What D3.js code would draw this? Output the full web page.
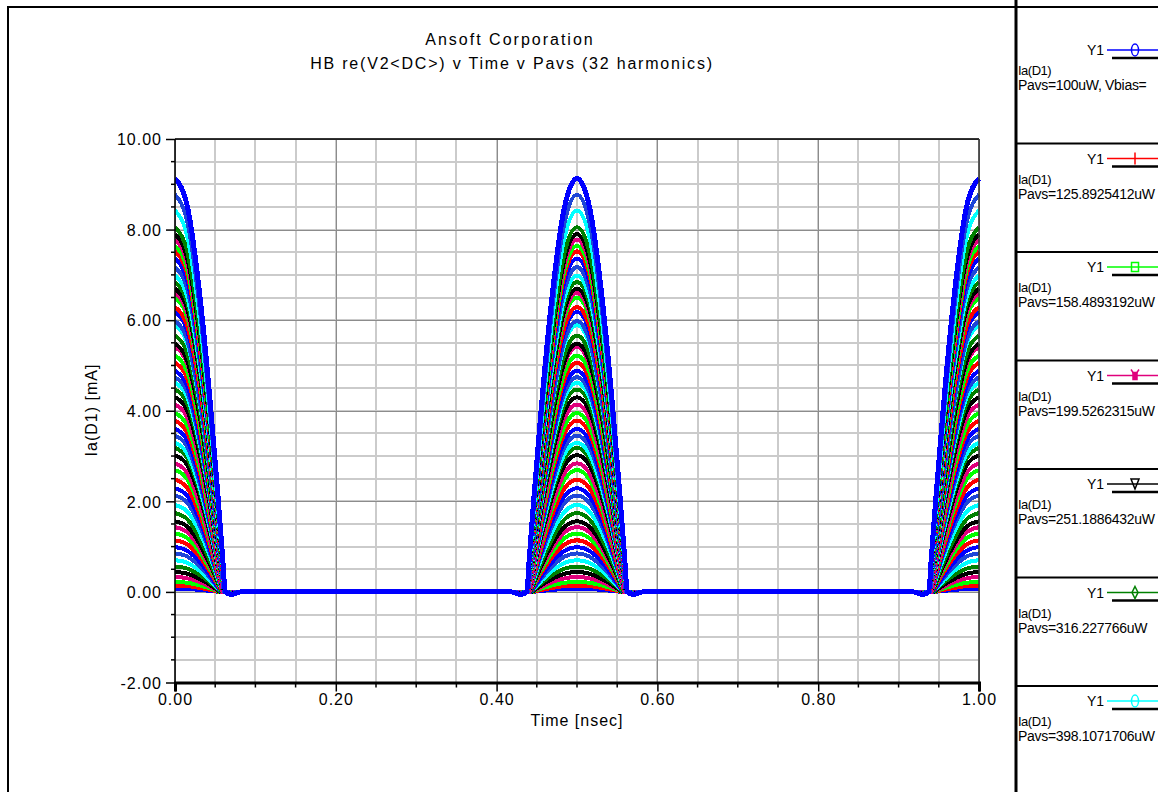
<!DOCTYPE html>
<html><head><meta charset="utf-8">
<script src="https://cdn.jsdelivr.net/npm/d3@7/dist/d3.min.js"></script>
<style>
body{margin:0;background:#fff}
text{font-family:"Liberation Sans",Arial,sans-serif;fill:#000}
</style>
</head><body>
<svg id="chart" width="1158" height="792"></svg>
<script>
// Axis ticks
const timeTicks = [0, 0.2, 0.4, 0.6, 0.8, 1.0];
const currentTicks = [-2, 0, 2, 4, 6, 8, 10];

// Time of each conduction pulse (nsec)
const pulseCenters = [0, 0.5, 1.0];

// Peak diode current of each swept trace (mA), lowest Pavs first
const peakCurrents = [
  0.07, 0.14, 0.22, 0.33, 0.44, 0.56, 0.70, 0.85, 0.99, 1.14,
  1.29, 1.43, 1.56, 1.74, 1.92, 2.13, 2.29, 2.48, 2.69, 2.84,
  3.02, 3.18, 3.29, 3.45, 3.60, 3.78, 3.95, 4.14, 4.30, 4.47,
  4.62, 4.74, 4.88, 5.06, 5.22, 5.41, 5.48, 5.66, 5.89, 5.98,
  6.18, 6.29, 6.50, 6.60, 6.70, 6.84, 6.98, 7.17, 7.36, 7.52,
  7.64, 7.78, 7.90, 8.05, 8.42, 8.77, 9.13
];

// Conduction half-width of each trace (nsec)
const halfWidths = [
  0.055, 0.055, 0.056, 0.056, 0.056, 0.057, 0.057, 0.057, 0.057, 0.058,
  0.058, 0.058, 0.058, 0.058, 0.059, 0.059, 0.059, 0.059, 0.059, 0.059,
  0.060, 0.060, 0.060, 0.060, 0.060, 0.060, 0.060, 0.060, 0.061, 0.061,
  0.061, 0.061, 0.061, 0.061, 0.061, 0.061, 0.061, 0.061, 0.061, 0.061,
  0.062, 0.062, 0.062, 0.062, 0.062, 0.062, 0.062, 0.062, 0.062, 0.062,
  0.062, 0.062, 0.062, 0.062, 0.062, 0.062, 0.0625
];

// Pulse shape: offset from the pulse centre (fraction of half-width) vs. fraction of peak
const profileX = [0, 0.25, 0.5, 0.7, 0.85, 0.95, 1.0, 1.12, 1.3];
const profileY = [1, 0.93, 0.71, 0.46, 0.24, 0.08, 0, -0.006, 0];

// Trace colour cycle
const traceColors = ['#0000ff', '#ff0000', '#00ff00', '#e0007c', '#000000', '#008000', '#00ffff', '#1e46d8'];

// Legend entries
const legendMarkers = ['circle', 'plus', 'square', 'asterisk', 'triangle', 'diamond', 'circle'];
const legendLabels = [
  'Pavs=100uW, Vbias=',
  'Pavs=125.8925412uW',
  'Pavs=158.4893192uW',
  'Pavs=199.5262315uW',
  'Pavs=251.1886432uW',
  'Pavs=316.227766uW',
  'Pavs=398.1071706uW'
];

const svg = d3.select('#chart');
svg.append('rect').attr('width', 1158).attr('height', 792).attr('fill', '#fff');

const x = d3.scaleLinear().domain([0, 1]).range([175, 979]);
const y = d3.scaleLinear().domain([-2, 10]).range([682.5, 139]);
const fmt = d => d3.format('.2f')(d).replace('\u2212', '-');

// Outer frame
svg.append('path').attr('d', 'M8,792V7H1158').attr('fill', 'none').attr('stroke', '#000').attr('stroke-width', 2);
svg.append('line').attr('x1', 1016).attr('x2', 1016).attr('y1', 0).attr('y2', 792)
  .attr('stroke', '#000').attr('stroke-width', 3);

// Titles
svg.append('text').attr('x', 510).attr('y', 45).attr('text-anchor', 'middle')
  .style('font-size', '16px').style('letter-spacing', '2px').text('Ansoft Corporation');
svg.append('text').attr('x', 512).attr('y', 69).attr('text-anchor', 'middle')
  .style('font-size', '16px').style('letter-spacing', '1.8px').text('HB re(V2<DC>) v Time v Pavs (32 harmonics)');

// Grid
const grid = svg.append('g');
const minorT = d3.range(0, 21).map(i => i * 0.05);
const minorI = d3.range(0, 25).map(i => -2 + i * 0.5);
grid.selectAll('.vminor').data(minorT).join('line')
  .attr('x1', d => Math.round(x(d))).attr('x2', d => Math.round(x(d)))
  .attr('y1', y(10)).attr('y2', y(-2))
  .attr('stroke', '#cbcbcb').attr('stroke-width', 2);
grid.selectAll('.hminor').data(minorI).join('line')
  .attr('y1', d => Math.round(y(d))).attr('y2', d => Math.round(y(d)))
  .attr('x1', x(0)).attr('x2', x(1))
  .attr('stroke', '#cbcbcb').attr('stroke-width', 2);
grid.selectAll('.vmajor').data(timeTicks).join('line')
  .attr('x1', d => Math.round(x(d)) + 0.5).attr('x2', d => Math.round(x(d)) + 0.5)
  .attr('y1', y(10)).attr('y2', y(-2))
  .attr('stroke', '#8c8c8c').attr('stroke-width', 1);
grid.selectAll('.hmajor').data(currentTicks).join('line')
  .attr('y1', d => Math.round(y(d)) + 0.5).attr('y2', d => Math.round(y(d)) + 0.5)
  .attr('x1', x(0)).attr('x2', x(1))
  .attr('stroke', '#8c8c8c').attr('stroke-width', 1);

// Traces
svg.append('clipPath').attr('id', 'plotclip').append('rect')
  .attr('x', x(0)).attr('y', y(10) - 4).attr('width', x(1) - x(0) + 3).attr('height', y(-2) - y(10) + 4);

function tracePoints(peak, hw) {
  const pts = [];
  pulseCenters.forEach(c => {
    profileX.forEach((px, k) => {
      [-1, 1].forEach(s => {
        const t = c + s * px * hw;
        if (t >= 0 && t <= 1) pts.push([t, peak * profileY[k]]);
      });
    });
  });
  pts.sort((a, b) => a[0] - b[0]);
  return pts.filter((p, i) => i === 0 || p[0] - pts[i - 1][0] > 1e-9);
}

const line = d3.line().x(d => x(d[0])).y(d => y(d[1])).curve(d3.curveMonotoneX);
const traces = svg.append('g').attr('clip-path', 'url(#plotclip)');
peakCurrents.forEach((pk, i) => {
  traces.append('path')
    .attr('d', line(tracePoints(pk, halfWidths[i])))
    .attr('fill', 'none')
    .attr('stroke', traceColors[i % traceColors.length])
    .attr('stroke-width', i === peakCurrents.length - 1 ? 5 : 4)
    .attr('stroke-linejoin', 'round')
    .attr('shape-rendering', 'crispEdges');
});

// Plot border and axes
svg.append('line').attr('x1', x(0)).attr('x2', x(1)).attr('y1', y(10)).attr('y2', y(10))
  .attr('stroke', '#000').attr('stroke-width', 1.5);
svg.append('line').attr('x1', x(1)).attr('x2', x(1)).attr('y1', y(10)).attr('y2', y(-2))
  .attr('stroke', '#333').attr('stroke-width', 1.5);

const yAxis = d3.axisLeft(y).tickValues(currentTicks).tickSize(9).tickPadding(4).tickFormat(fmt);
const yG = svg.append('g').attr('transform', `translate(${x(0)},0)`).call(yAxis);
yG.selectAll('.tick line').attr('stroke-width', 1.5);
yG.selectAll('text').style('font-size', '16px').style('letter-spacing', '1px')
  .attr('font-family', null).attr('dy', '0.36em');
yG.select('.domain').remove();
svg.append('g').selectAll('line').data(minorI.filter(v => v % 2 !== 0)).join('line')
  .attr('x1', x(0) - 4).attr('x2', x(0)).attr('y1', d => y(d)).attr('y2', d => y(d))
  .attr('stroke', '#000').attr('stroke-width', 1.5);

const xAxis = d3.axisBottom(x).tickValues(timeTicks).tickSize(9).tickPadding(0).tickFormat(fmt);
const xG = svg.append('g').attr('transform', `translate(0,${y(-2)})`).call(xAxis);
xG.select('.domain').attr('stroke-width', 3);
xG.selectAll('.tick line').attr('stroke-width', 1.5);
xG.selectAll('text').style('font-size', '16px').style('letter-spacing', '1px')
  .attr('font-family', null).attr('dy', '0.85em');
svg.append('g').selectAll('line').data(minorT.filter((v, i) => i % 4 !== 0)).join('line')
  .attr('x1', d => x(d)).attr('x2', d => x(d)).attr('y1', y(-2)).attr('y2', y(-2) + 5)
  .attr('stroke', '#000').attr('stroke-width', 1.5);
svg.append('line').attr('x1', x(0)).attr('x2', x(0)).attr('y1', y(10)).attr('y2', y(-2))
  .attr('stroke', '#000').attr('stroke-width', 1.5);

// Axis titles
svg.append('text').attr('x', 577).attr('y', 726).attr('text-anchor', 'middle')
  .style('font-size', '16px').style('letter-spacing', '1px').text('Time [nsec]');
svg.append('text').attr('transform', 'translate(97,410) rotate(-90)').attr('text-anchor', 'middle')
  .style('font-size', '16px').style('letter-spacing', '1px').text('Ia(D1) [mA]');

// Legend
const leg = svg.append('g');
legendLabels.forEach((lab, k) => {
  const top = 35 + 108.5 * k;
  if (k > 0) leg.append('line').attr('x1', 1017).attr('x2', 1158).attr('y1', top).attr('y2', top)
    .attr('stroke', '#000').attr('stroke-width', 2);
  const col = traceColors[k];
  leg.append('text').attr('x', 1087).attr('y', top + 20).style('font-size', '14px').text('Y1');
  leg.append('line').attr('x1', 1107).attr('x2', 1158).attr('y1', top + 15).attr('y2', top + 15)
    .attr('stroke', col).attr('stroke-width', 1.5);
  leg.append('line').attr('x1', 1112).attr('x2', 1158).attr('y1', top + 23).attr('y2', top + 23)
    .attr('stroke', '#000').attr('stroke-width', 2.5);
  const mx = 1135, my = top + 15;
  const m = legendMarkers[k];
  const mk = leg.append('g').attr('stroke', col).attr('fill', 'none').attr('stroke-width', 1.5);
  if (m === 'circle') mk.append('ellipse').attr('cx', mx).attr('cy', my).attr('rx', 3.5).attr('ry', 6);
  if (m === 'plus') { mk.append('line').attr('x1', mx).attr('x2', mx).attr('y1', my - 6).attr('y2', my + 6); }
  if (m === 'square') mk.append('rect').attr('x', mx - 3.5).attr('y', my - 4.5).attr('width', 7).attr('height', 9);
  if (m === 'asterisk') {
    mk.append('rect').attr('x', mx - 2).attr('y', my - 3).attr('width', 4).attr('height', 7).attr('fill', col);
    mk.append('path').attr('d', `M${mx - 4},${my - 6}L${mx},${my}L${mx + 4},${my - 6}`);
  }
  if (m === 'triangle') mk.append('path').attr('d', `M${mx - 4},${my - 5}H${mx + 4}L${mx},${my + 5}Z`);
  if (m === 'diamond') mk.append('path').attr('d', `M${mx},${my - 6}L${mx + 3},${my}L${mx},${my + 6}L${mx - 3},${my}Z`);
  leg.append('text').attr('x', 1018).attr('y', top + 40).style('font-size', '13px')
    .style('letter-spacing', '-0.5px').text('Ia(D1)');
  leg.append('text').attr('x', 1018).attr('y', top + 55).style('font-size', '14px')
    .style('letter-spacing', '-0.3px').text(lab);
});
</script>
</body></html>
